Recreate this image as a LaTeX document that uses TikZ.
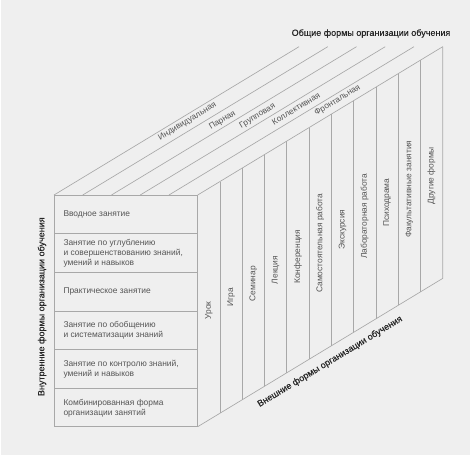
\documentclass[tikz,border=0pt]{standalone}
\usepackage{fontspec}
\setmainfont{Liberation Sans}
\newfontfamily\titfont{Liberation Sans}[FakeBold=0.35]
\usetikzlibrary{calc}
\definecolor{bgc}{HTML}{EFEFEF}
\definecolor{linec}{HTML}{A8A8A8}
\definecolor{labc}{HTML}{555555}
\definecolor{titc}{HTML}{262626}
\begin{document}
\begin{tikzpicture}[x=1pt,y=-1pt,
  ln/.style={draw=linec,line width=0.65pt},
  lab/.style={text=labc,font=\fontsize{8.4}{10}\selectfont,inner sep=0pt},
  rowlab/.style={lab,anchor=west,align=left},
  collab/.style={lab,rotate=90,anchor=center},
  toplab/.style={lab,rotate=31.18,anchor=center},
  tit/.style={text=titc,font=\titfont\fontsize{9}{11}\selectfont,inner sep=0pt}]
\useasboundingbox (0,0) rectangle (474,459);
\fill[white] (0,0) rectangle (474,459);
\fill[bgc] (1,0) rectangle (470,455);
% corners
\coordinate (F1) at (54,195);
\coordinate (F2) at (197.7,195);
\coordinate (F3) at (197.7,426.7);
\coordinate (F4) at (54,426.7);
\coordinate (B1) at (299,46.7);
\coordinate (B2) at (442.7,46.7);
\coordinate (B3) at (442.7,278.4);
% top face stripes
\foreach \i in {0,...,5}{
  \coordinate (sf\i) at ($(F1)!\i/5!(F2)$);
  \coordinate (sb\i) at ($(B1)!\i/5!(B2)$);
  \draw[ln] (sf\i) -- (sb\i);
}
% right face
\draw[ln] (B2) -- (B3) -- (F3);
\foreach \k in {1,...,10}{
  \coordinate (ct\k) at ($(F2)!\k/11!(B2)$);
  \coordinate (cb\k) at ($(F3)!\k/11!(B3)$);
  \draw[ln] (ct\k) -- (cb\k);
}
% front face
\draw[ln] (F1) rectangle (F3);
\foreach \r in {1,...,5}{
  \coordinate (rl\r) at ($(F1)!\r/6!(F4)$);
  \coordinate (rr\r) at ($(F2)!\r/6!(F3)$);
  \draw[ln] (rl\r) -- (rr\r);
}
% row labels
\node[rowlab] (r1) at (63.3,214.2) {Вводное занятие};
\node[rowlab] (r2) at (63.3,253) {Занятие по углублению\\и совершенствованию знаний,\\умений и навыков};
\node[rowlab] (r3) at (63.3,291.8) {Практическое занятие};
\node[rowlab] (r4) at (63.3,330.4) {Занятие по обобщению\\и систематизации знаний};
\node[rowlab] (r5) at (63.3,369.2) {Занятие по контролю знаний,\\умений и навыков};
\node[rowlab] (r6) at (63.3,407.8) {Комбинированная форма\\организации занятий};
% column labels
\foreach \k/\t in {1/Урок,2/Игра,3/Семинар,4/Лекция,5/Конференция,6/Самостоятельная работа,7/Экскурсия,8/Лабораторная работа,9/Психодрама,10/Факультативные занятия,11/Другие формы}{
  \node[collab] (c\k) at ($($(F2)!{(\k-0.5)/11}!(B2)$)!0.5!($(F3)!{(\k-0.5)/11}!(B3)$)+(0,6.5)$) {\t};
}
% top stripe labels
\node[toplab] (t1) at (187.5,121.5) {Индивидуальная};
\node[toplab] (t2) at (222.5,120.5) {Парная};
\node[toplab] (t3) at (257.5,116) {Групповая};
\node[toplab] (t4) at (296,108.5) {Коллективная};
\node[toplab] (t5) at (337.5,100.5) {Фронтальная};
% titles
\node[tit] (g) at (371,33.5) {Общие формы организации обучения};
\node[tit,rotate=90] (v) at (42,306.7) {Внутренние формы организации обучения};
\node[tit,rotate=31.18] (e) at (330,361.7) {Внешние формы организации обучения};
\end{tikzpicture}
\end{document}
